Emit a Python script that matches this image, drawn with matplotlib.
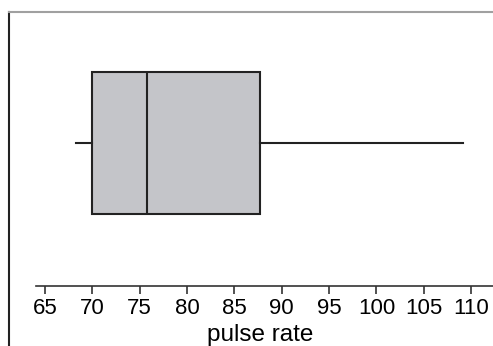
import matplotlib
matplotlib.use("Agg")
import matplotlib.pyplot as plt

# Five-number summary of the pulse rates
whisker_low = 68.3
q1 = 70.0
median = 75.75
q3 = 87.75
whisker_high = 109.1

tick_values = [65, 70, 75, 80, 85, 90, 95, 100, 105, 110]
x_label = "pulse rate"

plt.rcParams["font.family"] = ["Liberation Sans", "DejaVu Sans"]

W, H = 493, 346
fig = plt.figure(figsize=(W / 100, H / 100), dpi=100)
ax = fig.add_axes([9 / W, 0, 484 / W, 334 / H])

stats = [{
    "whislo": whisker_low, "q1": q1, "med": median,
    "q3": q3, "whishi": whisker_high, "fliers": [],
}]
line_kw = dict(color="#222222", linewidth=1.5)
ax.bxp(stats, positions=[0], widths=1.0, vert=False, patch_artist=True,
       showcaps=False,
       boxprops=dict(facecolor="#c4c5c9", edgecolor="#222222", linewidth=1.5),
       medianprops=line_kw, whiskerprops=line_kw)

ax.set_xlim(61.2, 112.31)
ax.set_ylim(-1.43, 0.9225)

ax.spines["right"].set_visible(False)
ax.spines["left"].set_color("#222222")
ax.spines["left"].set_linewidth(1.5)
ax.spines["top"].set_color("#a0a0a0")
ax.spines["top"].set_linewidth(1.5)
ax.spines["bottom"].set_position(("data", -1.007))
ax.spines["bottom"].set_bounds(64.0, 113)
ax.spines["bottom"].set_color("#333333")
ax.spines["bottom"].set_linewidth(1.2)

ax.set_yticks([])
ax.set_xticks(tick_values)
ax.set_xticklabels([str(v) for v in tick_values])
ax.tick_params(axis="x", length=6, width=1.2, color="#333333",
               pad=3, labelsize=16)
ax.set_xlabel(x_label, fontsize=17.5, labelpad=3)
ax.xaxis.label.set_x(0.5186)

fig.savefig("out.png", dpi=100)
